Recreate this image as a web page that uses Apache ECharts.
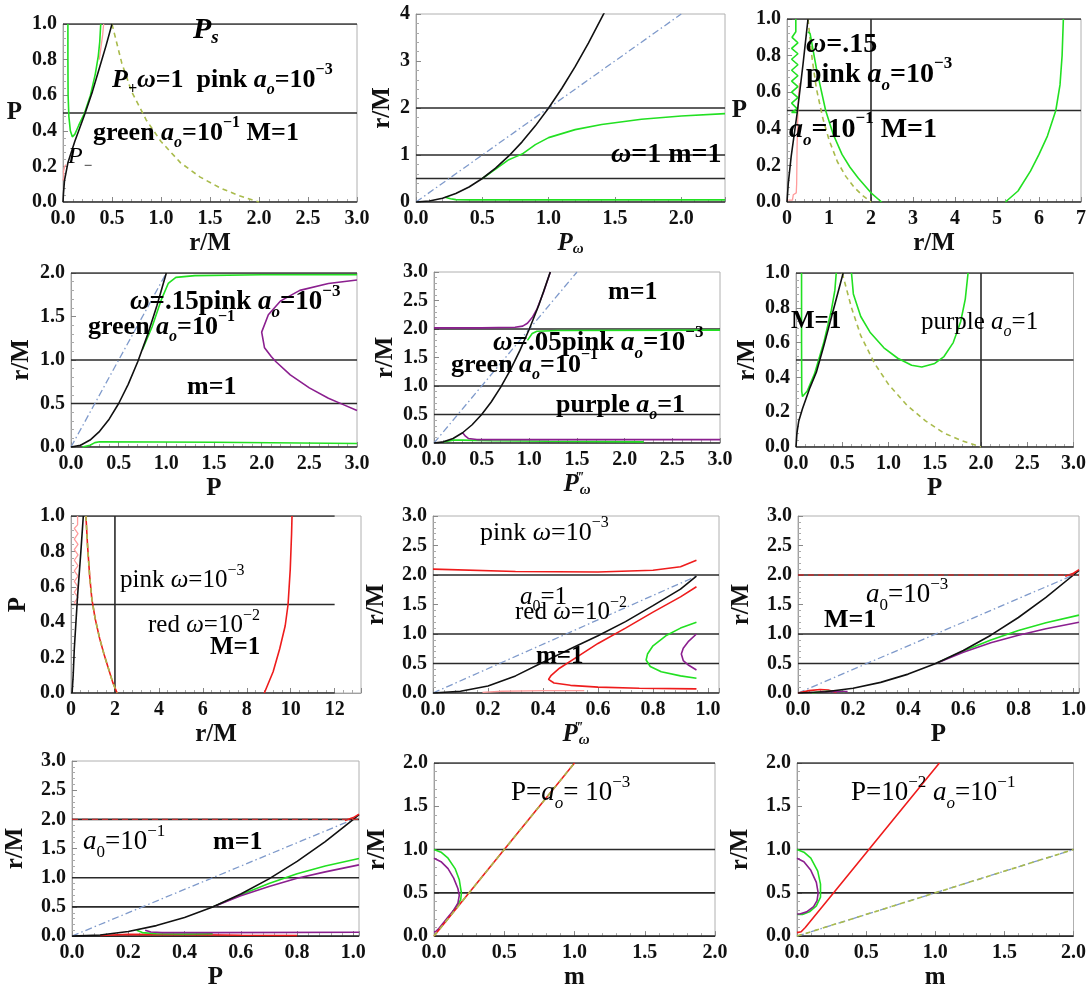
<!DOCTYPE html>
<html><head><meta charset="utf-8">
<script src="https://cdn.jsdelivr.net/npm/echarts@6/dist/echarts.min.js"></script>
<style>html,body{margin:0;padding:0;background:#fff}#c{width:1089px;height:992px}</style>
</head><body><div id="c"></div>
<script>
// ---------- DATA ----------
// Panel 1 : P vs r/M
const p1RefY = [0, 0.5, 1.0];
const p1Black = [[0,0],[0.005,0.05],[0.015,0.12],[0.05,0.22],[0.12,0.34],[0.22,0.49],[0.3,0.62],[0.37,0.75],[0.44,0.88],[0.5,1.0]];
const p1Green = [[0.05,1.0],[0.05,0.8],[0.052,0.6],[0.06,0.48],[0.075,0.4],[0.095,0.366],[0.12,0.38],[0.16,0.43],[0.22,0.5],[0.28,0.6],[0.33,0.72],[0.36,0.82],[0.375,0.9],[0.385,1.0]];
const p1PinkTop = [[0.37,0.8],[0.39,0.88],[0.405,0.94],[0.415,1.0]];
const p1PinkLow = [[0.0,0.12],[0.01,0.14],[0.004,0.17],[0.018,0.2],[0.03,0.21]];
const p1Olive = [[0.5,1.0],[0.6,0.78],[0.7,0.62],[0.85,0.46],[1.0,0.34],[1.2,0.22],[1.4,0.14],[1.6,0.08],[1.8,0.035],[2.0,0.0]];
// Panel 2 : r/M vs P_omega
const p2RefY = [0, 0.5, 1, 2];
const p2Black = [[0,0],[0.1,0.02],[0.2,0.08],[0.3,0.18],[0.4,0.32],[0.5,0.5],[0.6,0.72],[0.7,0.98],[0.8,1.28],[0.9,1.62],[1.0,2.0],[1.1,2.42],[1.2,2.88],[1.3,3.38],[1.42,4.03]];
const p2Blue = [[0,0],[2.0,4.0]];
const p2GreenUp = [[0.5,0.5],[0.6,0.7],[0.7,0.9],[0.75,0.96],[0.8,1.02],[0.9,1.22],[1.0,1.37],[1.2,1.54],[1.4,1.65],[1.7,1.76],[2.0,1.83],[2.33,1.88]];
const p2GreenLow = [[0.22,0.1],[0.26,0.07],[0.3,0.05],[0.4,0.045],[1.0,0.045],[2.33,0.045]];
// Panel 3 : P vs r/M
const p3RefY = [0, 0.5, 1.0];
const p3RefX = [2];
const p3Black = [[0,0],[0.03,0.1],[0.1,0.25],[0.25,0.5],[0.38,0.75],[0.5,1.0]];
const p3GreenZig = [[0.21,1.0],[0.21,0.93],[0.12,0.9],[0.26,0.87],[0.11,0.84],[0.26,0.81],[0.11,0.78],[0.26,0.75],[0.11,0.72],[0.26,0.69],[0.11,0.66],[0.26,0.63],[0.11,0.6],[0.26,0.57],[0.11,0.54],[0.24,0.51],[0.11,0.49],[0.26,0.49]];
const p3GreenMid = [[0.5,0.93],[0.55,0.92],[0.7,0.73],[0.92,0.5],[1.1,0.37],[1.31,0.26],[1.5,0.19],[1.7,0.13],[2.0,0.05],[2.25,0.0]];
const p3GreenRight = [[5.2,0],[5.5,0.06],[5.8,0.17],[6.0,0.26],[6.2,0.36],[6.4,0.5],[6.5,0.64],[6.55,0.8],[6.58,1.0]];
const p3Olive = [[0.5,1.0],[0.6,0.78],[0.7,0.62],[0.85,0.46],[1.0,0.34],[1.2,0.22],[1.4,0.14],[1.6,0.08],[1.8,0.035],[2.0,0.0]];
const p3Pink = [[0.03,0.01],[0.13,0.01],[0.15,0.04],[0.22,0.05],[0.23,0.1],[0.24,0.3],[0.26,0.5],[0.28,0.6],[0.3,0.65]];
// Panel 4 : r/M vs P
const p4RefY = [0, 0.5, 1, 2];
const p4Black = [[0,0],[0.1,0.02],[0.2,0.08],[0.3,0.18],[0.4,0.32],[0.5,0.5],[0.6,0.72],[0.7,0.98],[0.8,1.28],[0.9,1.62],[1.0,2.0]];
const p4Blue = [[0,0],[1.0,2.0]];
const p4GreenUp = [[0.75,1.12],[0.85,1.38],[0.95,1.7],[1.02,1.88],[1.1,1.95],[1.3,1.97],[2.0,1.98],[3.0,1.98]];
const p4GreenLow = [[0.12,0.0],[0.2,0.02],[0.25,0.05],[0.3,0.06],[1.5,0.055],[3.0,0.04]];
const p4Purple = [[3.0,1.92],[2.7,1.88],[2.4,1.8],[2.2,1.68],[2.07,1.52],[2.0,1.32],[2.03,1.14],[2.1,1.04],[2.15,0.98],[2.3,0.83],[2.5,0.68],[2.7,0.56],[2.85,0.49],[3.0,0.42]];
// Panel 5 : r/M vs P_omega'''
const p5RefY = [0, 0.5, 1, 2];
const p5Black = [[0,0],[0.1,0.02],[0.2,0.08],[0.3,0.18],[0.4,0.32],[0.5,0.5],[0.6,0.72],[0.7,0.98],[0.8,1.28],[0.9,1.62],[1.0,2.0],[1.1,2.42],[1.22,3.0]];
const p5Blue = [[0,0],[1.5,3.0]];
const p5PurpleUp = [[0,2.02],[0.5,2.02],[0.85,2.03],[0.93,2.05],[0.98,2.1],[1.03,2.2],[1.08,2.35],[1.15,2.65],[1.22,3.0]];
const p5PurpleLow = [[0.3,0.18],[0.33,0.12],[0.36,0.08],[0.45,0.06],[1.0,0.06],[3.0,0.06]];
const p5GreenUp = [[0.98,1.8],[1.03,1.92],[1.08,1.96],[1.3,1.975],[3.0,1.98]];
const p5GreenLow = [[0.1,0.02],[0.2,0.05],[0.3,0.05],[0.6,0.04],[1.2,0.03],[2.2,0.02]];
// Panel 6 : r/M vs P
const p6RefY = [0, 0.5, 1.0];
const p6RefX = [2];
const p6Black = [[0,0],[0.01,0.08],[0.03,0.15],[0.07,0.22],[0.15,0.34],[0.22,0.43],[0.3,0.58],[0.4,0.78],[0.51,1.0]];
const p6GreenL = [[0.06,1.0],[0.06,0.6],[0.062,0.32],[0.07,0.29],[0.09,0.29],[0.12,0.32],[0.2,0.42],[0.3,0.6],[0.38,0.78],[0.42,0.9],[0.435,1.0]];
const p6GreenU = [[0.6,1.0],[0.62,0.88],[0.7,0.75],[0.8,0.66],[0.95,0.57],[1.1,0.51],[1.25,0.47],[1.36,0.46],[1.5,0.48],[1.6,0.52],[1.7,0.6],[1.78,0.72],[1.83,0.85],[1.86,1.0]];
const p6Olive = [[0.5,1.0],[0.6,0.8],[0.7,0.64],[0.85,0.48],[1.0,0.36],[1.2,0.24],[1.4,0.15],[1.6,0.08],[1.8,0.035],[2.0,0.0]];
// Panel 7 : P vs r/M
const p7RefY = [0, 0.5, 1.0];
const p7RefX = [2];
const p7Black = [[0.05,0],[0.1,0.1],[0.15,0.25],[0.3,0.55],[0.45,0.8],[0.56,1.0]];
const p7RedL = [[0.68,1.0],[0.75,0.84],[0.85,0.66],[0.95,0.53],[1.1,0.42],[1.3,0.31],[1.5,0.22],[1.7,0.14],[1.9,0.06],[2.1,0.0]];
const p7RedR = [[8.8,0],[9.2,0.12],[9.5,0.25],[9.75,0.38],[9.88,0.5],[9.98,0.7],[10.04,0.9],[10.06,1.0]];
const p7Pink = [[0.3,1.0],[0.3,0.95],[0.15,0.93],[0.32,0.9],[0.15,0.87],[0.32,0.84],[0.15,0.81],[0.32,0.78],[0.15,0.75],[0.32,0.72],[0.15,0.69],[0.32,0.66],[0.15,0.63],[0.32,0.6],[0.15,0.57],[0.32,0.54],[0.15,0.51],[0.3,0.5]];
// Panel 8 : r/M vs P_omega'''
const p8RefY = [0, 0.5, 1, 2];
const p8Black = [[0,0],[0.1,0.03],[0.2,0.12],[0.3,0.29],[0.4,0.52],[0.5,0.75],[0.6,0.97],[0.7,1.21],[0.8,1.48],[0.9,1.76],[0.958,1.98]];
const p8Blue = [[0,0],[0.958,1.98]];
const p8RedUp = [[0,2.1],[0.3,2.06],[0.6,2.05],[0.8,2.08],[0.9,2.14],[0.958,2.25]];
const p8RedC = [[0.958,1.8],[0.9,1.63],[0.8,1.37],[0.7,1.1],[0.6,0.84],[0.52,0.6],[0.46,0.42],[0.43,0.3],[0.42,0.23],[0.44,0.17],[0.5,0.13],[0.6,0.1],[0.75,0.08],[0.958,0.07]];
const p8PinkLow = [[0.18,0.01],[0.25,0.03],[0.4,0.04],[0.55,0.04]];
const p8Green = [[0.958,1.2],[0.9,1.1],[0.85,0.98],[0.8,0.8],[0.78,0.66],[0.775,0.56],[0.79,0.45],[0.83,0.36],[0.9,0.29],[0.958,0.25]];
const p8Purple = [[0.958,1.0],[0.93,0.88],[0.91,0.76],[0.903,0.66],[0.91,0.55],[0.93,0.47],[0.958,0.39]];
// Panel 9 : r/M vs P
const p9RefY = [0, 0.5, 1, 2];
const p9Black = [[0,0],[0.1,0.02],[0.2,0.08],[0.3,0.18],[0.4,0.32],[0.5,0.5],[0.6,0.72],[0.7,0.98],[0.8,1.28],[0.9,1.62],[1.0,2.0],[1.02,2.08]];
const p9Blue = [[0,0],[1.0,2.0]];
const p9Green = [[0.5,0.5],[0.6,0.71],[0.7,0.9],[0.8,1.06],[0.9,1.19],[1.02,1.32]];
const p9Purple = [[0.5,0.5],[0.6,0.69],[0.7,0.85],[0.8,0.98],[0.9,1.09],[1.02,1.2]];
const p9RedLow = [[0.0,0.0],[0.04,0.04],[0.08,0.06],[0.11,0.05],[0.14,0.01]];
const p9GreenLow = [[0.05,0.0],[0.1,0.03],[0.15,0.03],[0.17,0.02]];
const p9PurpleLow = [[0.08,0.02],[0.13,0.03],[0.18,0.025]];
const p9RedTop = [[0.97,1.98],[1.0,2.03],[1.02,2.09]];
const p9RedFlat = [[0,2.0],[1.02,2.0]];
// Panel 10 : r/M vs P
const p10RefY = [0, 0.5, 1, 2];
const p10Black = [[0,0],[0.1,0.02],[0.2,0.08],[0.3,0.18],[0.4,0.32],[0.5,0.5],[0.6,0.72],[0.7,0.98],[0.8,1.28],[0.9,1.62],[1.0,2.0],[1.02,2.08]];
const p10Blue = [[0,0],[1.0,2.0]];
const p10Green = [[0.5,0.5],[0.6,0.71],[0.7,0.9],[0.8,1.07],[0.9,1.2],[1.02,1.33]];
const p10Purple = [[0.5,0.5],[0.6,0.69],[0.7,0.85],[0.8,0.99],[0.9,1.1],[1.02,1.22]];
const p10GreenLow = [[0.23,0.1],[0.25,0.06],[0.3,0.04],[0.4,0.035],[0.5,0.04]];
const p10PurpleLow = [[0.26,0.1],[0.28,0.07],[0.32,0.06],[0.5,0.06],[1.02,0.065]];
const p10RedLow = [[0.1,0.01],[0.2,0.03],[0.4,0.025],[0.6,0.015],[0.8,0.01]];
const p10RedTop = [[0.97,1.98],[1.0,2.03],[1.02,2.09]];
const p10RedFlat = [[0,2.0],[1.02,2.0]];
// Panel 11 : r/M vs m
const p11RefY = [0, 0.5, 1, 2];
const p11Red = [[0,0],[1.0,2.0]];
const p11Green = [[0,1.0],[0.05,0.97],[0.1,0.9],[0.15,0.78],[0.18,0.65],[0.195,0.5],[0.19,0.42],[0.16,0.34],[0.13,0.28]];
const p11Purple = [[0,0.9],[0.05,0.86],[0.1,0.78],[0.14,0.67],[0.17,0.55],[0.18,0.47],[0.17,0.38],[0.14,0.3],[0.1,0.22],[0.06,0.14],[0.03,0.08],[0.01,0.05],[0,0.05]];
// Panel 12 : r/M vs m
const p12RefY = [0, 0.5, 1, 2];
const p12Red = [[0,0.04],[0.03,0.05],[0.06,0.1],[0.28,0.53],[0.52,1.0],[1.03,2.0]];
const p12Green = [[0,1.0],[0.05,0.97],[0.1,0.9],[0.15,0.75],[0.17,0.6],[0.17,0.45],[0.14,0.35],[0.09,0.28],[0.04,0.25],[0,0.25]];
const p12Purple = [[0,0.9],[0.05,0.86],[0.1,0.76],[0.14,0.62],[0.153,0.5],[0.145,0.41],[0.12,0.34],[0.07,0.28],[0.02,0.255],[0,0.255]];
const p12Diag = [[0,0],[2.0,1.0]];

// ---------- LAYOUT / STYLE ----------
const F = 'Liberation Serif';
const PAN = [
 {l:63, t:24, w:294,h:178, x:[0,3,0.5,1], y:[0,1,0.2,1], xn:'r/M', yn:'P', yRot:0, yg:41},
 {l:416,t:14, w:309,h:188, x:[0,2.33,0.5,1], y:[0,4,1,0], xn:'{i|P}{s|ω}', yn:'r/M', yg:14},
 {l:787,t:19, w:297,h:183, x:[0,7,1,0], y:[0,1,0.2,1], xn:'r/M', yn:'P', yRot:0, yg:40},
 {l:71, t:273,w:286,h:174, x:[0,3,0.5,1], y:[0,2,0.5,1], xn:'P', yn:'r/M', yg:36},
 {l:434,t:272,w:286,h:171, x:[0,3,0.5,1], y:[0,3,0.5,1], xn:'{i|P}{p|‴}{s|ω}', yn:'r/M', yg:32},
 {l:796,t:273,w:279,h:174, x:[0,3,0.5,1], y:[0,1,0.2,1], xn:'P', yn:'r/M', yg:35},
 {l:71, t:516,w:290,h:177, x:[0,13.2,2,0], y:[0,1,0.2,1], xn:'r/M', yn:'P', yg:39},
 {l:433,t:516,w:286,h:177, x:[0,1.04,0.2,1], y:[0,3,0.5,1], xn:'{i|P}{p|‴}{s|ω}', yn:'r/M', yg:43},
 {l:798,t:516,w:287,h:177, x:[0,1.02,0.2,1], y:[0,3,0.5,1], xn:'P', yn:'r/M', yg:43},
 {l:72, t:761,w:287,h:177, x:[0,1.02,0.2,1], y:[0,3,0.5,1], xn:'P', yn:'r/M', yg:43},
 {l:434,t:763,w:281,h:174, x:[0,2,0.5,1], y:[0,2,0.5,1], xn:'m', yn:'r/M', yg:43},
 {l:797,t:763,w:281,h:174, x:[0,2,0.5,1], y:[0,2,0.5,1], xn:'m', yn:'r/M', yg:43}
];
const STY = {
 K:{color:'#111',width:1.6},
 H:{color:'#2a2a2a',width:1.6},
 G:{color:'#22e022',width:1.6},
 PK:{color:'#ff9c9c',width:1.3},
 R:{color:'#ee1c1c',width:1.6},
 PU:{color:'#8b1f8f',width:1.6},
 B:{color:'#7f9acb',width:1.3,type:[7,3,1.5,3]},
 O:{color:'#a9bb4c',width:1.6,type:[5,4]},
 RD:{color:'#c03030',width:1.4,type:[6,4]}
};
// [panel, data, style]
const CURVES = [
 [0,p1Olive,'O'],[0,p1PinkTop,'PK'],[0,p1PinkLow,'PK'],[0,p1Green,'G'],[0,p1Black,'K'],
 [1,p2Blue,'B'],[1,p2GreenUp,'G'],[1,p2GreenLow,'G'],[1,p2Black,'K'],
 [2,p3Olive,'O'],[2,p3Pink,'PK'],[2,p3GreenZig,'G'],[2,p3GreenMid,'G'],[2,p3GreenRight,'G'],[2,p3Black,'K'],
 [3,p4Blue,'B'],[3,p4GreenUp,'G'],[3,p4GreenLow,'G'],[3,p4Purple,'PU'],[3,p4Black,'K'],
 [4,p5Blue,'B'],[4,p5GreenUp,'G'],[4,p5GreenLow,'G'],[4,p5PurpleUp,'PU'],[4,p5PurpleLow,'PU'],[4,p5Black,'K'],
 [5,p6Olive,'O'],[5,p6GreenL,'G'],[5,p6GreenU,'G'],[5,p6Black,'K'],
 [6,p7Pink,'PK'],[6,p7RedL,'R'],[6,p7RedL,'O'],[6,p7RedR,'R'],[6,p7Black,'K'],
 [7,p8Blue,'B'],[7,p8PinkLow,'PK'],[7,p8RedUp,'R'],[7,p8RedC,'R'],[7,p8Green,'G'],[7,p8Purple,'PU'],[7,p8Black,'K'],
 [8,p9Blue,'B'],[8,p9Green,'G'],[8,p9Purple,'PU'],[8,p9RedLow,'R'],[8,p9GreenLow,'G'],[8,p9PurpleLow,'PU'],[8,p9Black,'K'],[8,p9RedTop,'R'],[8,p9RedFlat,'RD'],
 [9,p10Blue,'B'],[9,p10Green,'G'],[9,p10Purple,'PU'],[9,p10RedLow,'R'],[9,p10GreenLow,'G'],[9,p10PurpleLow,'PU'],[9,p10Black,'K'],[9,p10RedTop,'R'],[9,p10RedFlat,'RD'],
 [10,p11Green,'G'],[10,p11Purple,'PU'],[10,p11Red,'R'],[10,p11Red,'O'],
 [11,p12Diag,'B'],[11,p12Diag,'O'],[11,p12Green,'G'],[11,p12Purple,'PU'],[11,p12Red,'R']
];
const REFS = [
 [0,p1RefY,null],[1,p2RefY,null],[2,p3RefY,p3RefX],[3,p4RefY,null],[4,p5RefY,null],[5,p6RefY,p6RefX],
 [6,p7RefY,p7RefX,[0,12]],[7,p8RefY,null],[8,p9RefY,null],[9,p10RefY,null],[10,p11RefY,null],[11,p12RefY,null]
];
function mkRich(s){
  const sub = Math.round(s*0.62);
  const base = {fontFamily:F,color:'#111'};
  const M = (o)=>Object.assign({},base,o);
  return {
    b:M({fontWeight:'bold',fontSize:s,lineHeight:Math.round(s*1.4)}),
    bi:M({fontWeight:'bold',fontStyle:'italic',fontSize:s,lineHeight:Math.round(s*1.4)}),
    bsub:M({fontWeight:'bold',fontStyle:'italic',fontSize:sub,lineHeight:sub,verticalAlign:'bottom'}),
    bsup:M({fontWeight:'bold',fontSize:sub,lineHeight:sub,verticalAlign:'top'}),
    n:M({fontSize:s,lineHeight:Math.round(s*1.4)}),
    ni:M({fontStyle:'italic',fontSize:s,lineHeight:Math.round(s*1.4)}),
    nsub:M({fontStyle:'italic',fontSize:sub,lineHeight:sub,verticalAlign:'bottom'}),
    nsub0:M({fontSize:sub,lineHeight:sub,verticalAlign:'bottom'}),
    nsup:M({fontSize:sub,lineHeight:sub,verticalAlign:'top'}),
    Pb:M({fontWeight:'bold',fontStyle:'italic',fontSize:30,lineHeight:36}),
    bsubL:M({fontWeight:'bold',fontStyle:'italic',fontSize:19,lineHeight:19,verticalAlign:'bottom'})
  };
}
const ANN = [
 {x:193,y:30,t:'{Pb|P}{bsubL|s}'},
 {x:112,y:80,s:26,t:'{bi|P}{bsub|+}{bi|ω}{b|=1  pink }{bi|a}{bsub|o}{b|=10}{bsup|−3}'},
 {x:93,y:133,s:26,t:'{b|green }{bi|a}{bsub|o}{b|=10}{bsup|−1}{b| M=1}'},
 {x:68,y:157,s:24,t:'{ni|P}{nsub|−}'},
 {x:611,y:155,s:28,t:'{bi|ω}{b|=1 m=1}'},
 {x:806,y:45,s:28,t:'{bi|ω}{b|=.15}'},
 {x:806,y:75,s:28,t:'{b|pink }{bi|a}{bsub|o}{b|=10}{bsup|−3}'},
 {x:789,y:130,s:28,t:'{bi|a}{bsub|o}{b|=10}{bsup|−1}{b| M=1}'},
 {x:130,y:302,s:27,t:'{bi|ω}{b|=.15pink }{bi|a}{bsub|o}{b|=10}{bsup|−3}'},
 {x:88,y:327,s:26,t:'{b|green }{bi|a}{bsub|o}{b|=10}{bsup|−1}'},
 {x:187,y:387,s:26,t:'{b|m=1}'},
 {x:608,y:292,s:26,t:'{b|m=1}'},
 {x:493,y:343,s:27,t:'{bi|ω}{b|=.05pink }{bi|a}{bsub|o}{b|=10}{bsup|−3}'},
 {x:451,y:365,s:26,t:'{b|green }{bi|a}{bsub|o}{b|=10}{bsup|−1}'},
 {x:556,y:405,s:26,t:'{b|purple }{bi|a}{bsub|o}{b|=1}'},
 {x:791,y:322,s:25,t:'{b|M=1}'},
 {x:921,y:322,s:25,t:'{n|purple }{ni|a}{nsub|o}{n|=1}'},
 {x:120,y:580,s:25,t:'{n|pink }{ni|ω}{n|=10}{nsup|−3}'},
 {x:148,y:625,s:25,t:'{n|red }{ni|ω}{n|=10}{nsup|−2}'},
 {x:210,y:648,s:25,t:'{b|M=1}'},
 {x:480,y:533,s:26,t:'{n|pink }{ni|ω}{n|=10}{nsup|−3}'},
 {x:520,y:597,s:25,t:'{ni|a}{nsub0|0}{n|=1}'},
 {x:515,y:612,s:25,t:'{n|red }{ni|ω}{n|=10}{nsup|−2}'},
 {x:536,y:657,s:25,t:'{b|m=1}'},
 {x:866,y:595,s:27,t:'{ni|a}{nsub0|0}{n|=10}{nsup|−3}'},
 {x:824,y:620,s:26,t:'{b|M=1}'},
 {x:83,y:842,s:27,t:'{ni|a}{nsub0|0}{n|=10}{nsup|−1}'},
 {x:213,y:842,s:26,t:'{b|m=1}'},
 {x:511,y:793,s:27,t:'{n|P=}{ni|a}{nsub|o}{n|= 10}{nsup|−3}'},
 {x:851,y:793,s:27,t:'{n|P=10}{nsup|−2}{n| }{ni|a}{nsub|o}{n|=10}{nsup|−1}'}
];

// ---------- BUILD ----------
function fmt(step, dec){
  return function(v){ const k=v/step; if (Math.abs(k-Math.round(k))>1e-6) return ''; return v.toFixed(dec); };
}
const nameRich = {
  i:{fontFamily:F,fontStyle:'italic',fontWeight:'bold',fontSize:25,color:'#111'},
  s:{fontFamily:F,fontStyle:'italic',fontSize:15,verticalAlign:'bottom',lineHeight:15,color:'#111'},
  p:{fontFamily:F,fontStyle:'italic',fontSize:15,verticalAlign:'top',lineHeight:15,width:1,color:'#111'}
};
function axisCommon(){
  return {
    type:'value',
    axisLine:{show:true,onZero:false,lineStyle:{color:'#a0a0a0'}},
    axisTick:{show:true,inside:true,length:5,lineStyle:{color:'#888'}},
    minorTick:{show:true,splitNumber:5,length:3,lineStyle:{color:'#aaa'}},
    splitLine:{show:false},
    nameLocation:'middle',
    nameTextStyle:{fontFamily:F,fontWeight:'bold',fontSize:25,color:'#111',lineHeight:27,rich:nameRich}
  };
}
const grid=[], xAxis=[], yAxis=[], series=[];
PAN.forEach((p,i)=>{
  grid.push({left:p.l,top:p.t,width:p.w,height:p.h,show:true,borderColor:'#b0b0b0',borderWidth:1,containLabel:false});
  xAxis.push(Object.assign(axisCommon(),{gridIndex:i,min:p.x[0],max:p.x[1],interval:p.x[2],name:p.xn,nameGap:27,
    axisLabel:{fontFamily:F,fontWeight:'bold',fontSize:20,color:'#111',margin:7,formatter:fmt(p.x[2],p.x[3])}}));
  const ya = Object.assign(axisCommon(),{gridIndex:i,min:p.y[0],max:p.y[1],interval:p.y[2],name:p.yn,nameGap:p.yg,
    axisLabel:{fontFamily:F,fontWeight:'bold',fontSize:20,color:'#111',margin:6,formatter:fmt(p.y[2],p.y[3])}});
  if (p.yRot===0) ya.nameRotate=0;
  yAxis.push(ya);
});
function line(i,data,st,z){
  const s=STY[st];
  return {type:'line',xAxisIndex:i,yAxisIndex:i,data:data,showSymbol:false,symbol:'none',silent:true,animation:false,
    lineStyle:{color:s.color,width:s.width,type:s.type||'solid'},z:z||3};
}
REFS.forEach(r=>{
  const i=r[0], p=PAN[i];
  const xr = r[3] || [p.x[0],p.x[1]];
  r[1].forEach(y=>series.push(line(i,[[xr[0],y],[xr[1],y]],'H',2)));
  if (r[2]) r[2].forEach(x=>series.push(line(i,[[x,p.y[0]],[x,p.y[1]]],'H',2)));
});
CURVES.forEach(c=>series.push(line(c[0],c[1],c[2],3)));
const graphic = ANN.map(a=>({type:'text',x:a.x,y:a.y,z:100,silent:true,
  style:{text:a.t,rich:mkRich(a.s||26),verticalAlign:'middle',align:'left'}}));

const chart = echarts.init(document.getElementById('c'),null,{renderer:'canvas'});
chart.setOption({animation:false,backgroundColor:'#fff',grid,xAxis,yAxis,series,graphic});
</script></body></html>
